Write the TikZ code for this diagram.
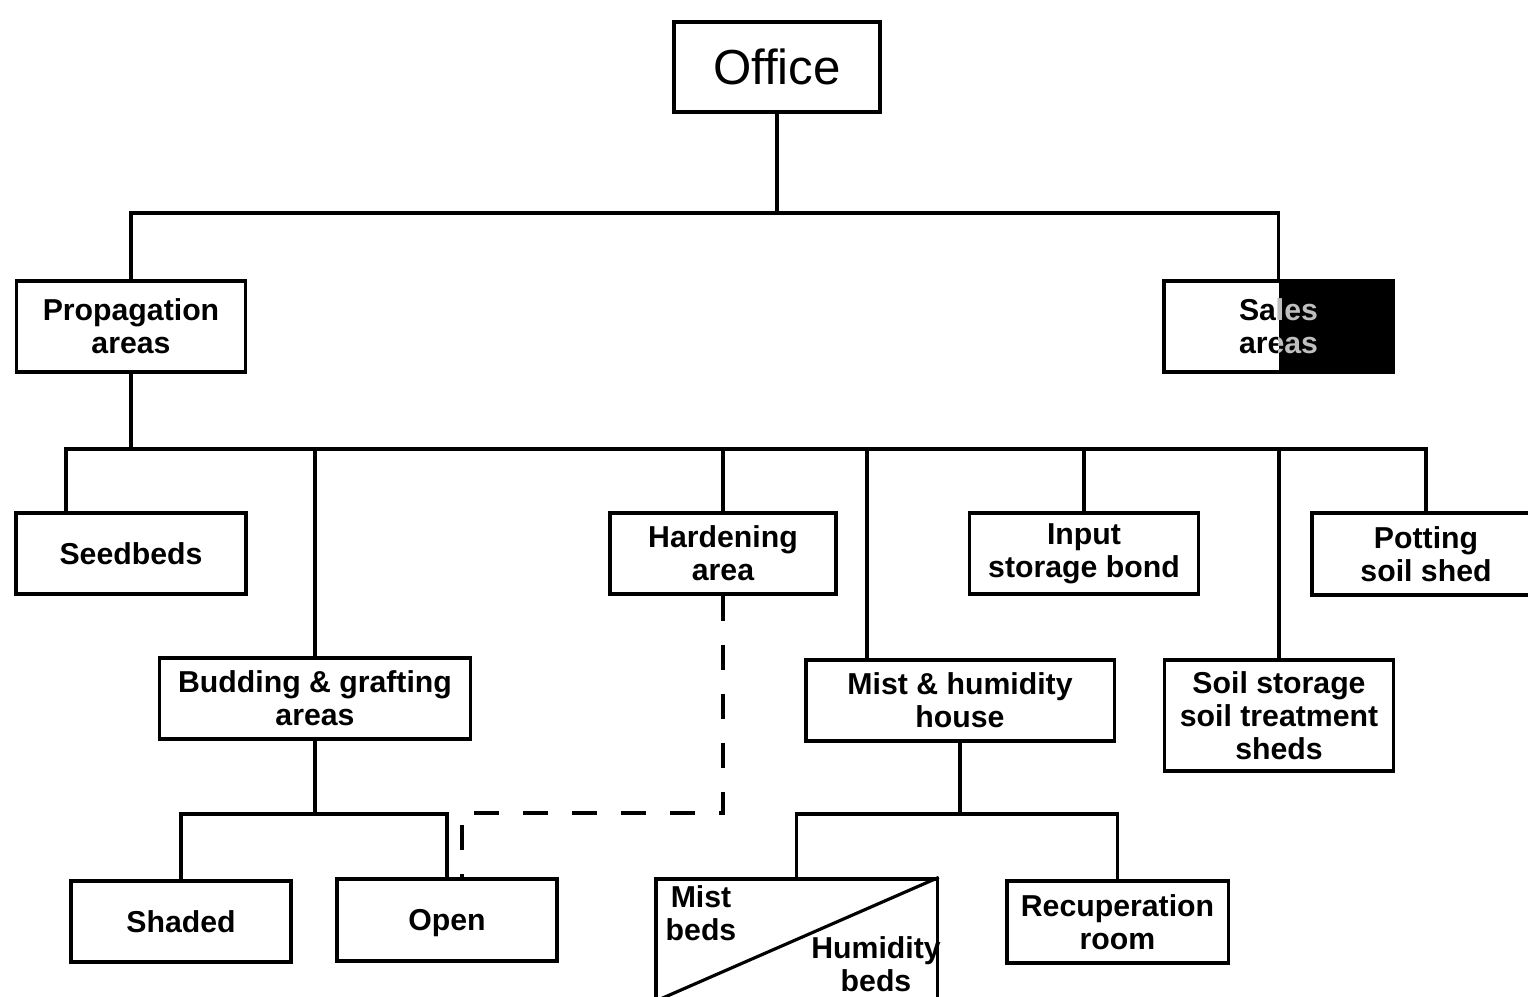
\documentclass[tikz,border=0pt]{standalone}
\usepackage{fontspec}
\setmainfont{Liberation Sans}
\begin{document}
\begin{tikzpicture}[x=0.01cm, y=-0.01cm, line width=0.9pt,
    casella/.style={draw, align=center, inner sep=1pt, font=\bfseries\fontsize{8.6}{9.3}\selectfont},
    riga/.style={text height=6.2pt, text depth=0pt},
    etichetta/.style={align=center, inner sep=0pt, font=\bfseries\fontsize{8.6}{9.3}\selectfont},
    tratteggio/.style={dash pattern=on 0.25cm off 0.24cm}]
    \useasboundingbox (0,0) rectangle (1528,996);

    % Ufficio
    \node[draw, minimum width=2.06cm, minimum height=0.9cm, font=\fontsize{14}{16}\selectfont] (office) at (777,67) {Office};

    % Aree principali
    \node[casella, minimum width=2.29cm, minimum height=0.91cm] (prop) at (131,326.5) {Propagation\\areas};
    \node[casella, minimum width=2.29cm, minimum height=0.91cm] (sales) at (1278.5,326.5) {Sales\\areas};
    \fill (sales.north) rectangle (sales.south east);
    \begin{scope}
        \clip (sales.north) rectangle (sales.south east);
        \node[etichetta, text=gray!50] (salesgray) at (sales.center) {Sales\\areas};
    \end{scope}

    % Reparti di propagazione
    \node[casella, riga, minimum width=2.30cm, minimum height=0.81cm] (seed) at (131,553.5) {Seedbeds};
    \node[casella, minimum width=3.10cm, minimum height=0.81cm] (budding) at (315,698.5) {Budding \& grafting\\areas};
    \node[casella, minimum width=2.26cm, minimum height=0.81cm] (hard) at (723,553.5) {Hardening\\area};
    \node[casella, minimum width=3.08cm, minimum height=0.81cm] (mist) at (960,700.5) {Mist \& humidity\\house};
    \node[casella, minimum width=2.29cm, minimum height=0.81cm] (input) at (1084,553.5) {Input\\storage bond};
    \node[casella, minimum width=2.29cm, minimum height=1.11cm] (soil) at (1279,715.5) {Soil storage\\soil treatment\\sheds};
    \node[casella, minimum width=2.28cm, minimum height=0.82cm] (pot) at (1426,554) {Potting\\soil shed};

    % Sotto-reparti
    \node[casella, riga, minimum width=2.20cm, minimum height=0.81cm] (shaded) at (181,921.5) {Shaded};
    \node[casella, riga, minimum width=2.20cm, minimum height=0.82cm] (open) at (447,920) {Open};
    \node[draw, minimum width=2.81cm, minimum height=1.21cm] (beds) at (796.5,939.5) {};
    \draw (beds.south west) -- (beds.north east);
    \node[etichetta] (mistbeds) at (701,913) {Mist\\beds};
    \node[etichetta] (humbeds) at (876,964) {Humidity\\beds};
    \node[casella, minimum width=2.21cm, minimum height=0.82cm] (recup) at (1117.5,922) {Recuperation\\room};

    % Collegamenti
    \coordinate (bus1) at (777,213);
    \coordinate (bus2) at (131,449);
    \coordinate (bus3) at (315,814);
    \coordinate (bus4) at (960,814);
    \coordinate (dashc) at (462,813);
    \draw (office.south) -- (bus1);
    \draw (prop.north) |- (bus1) -| (sales.north);
    \draw (prop.south) -- (bus2);
    \draw ([xshift=-0.65cm]seed.north) |- (bus2) -| (pot.north);
    \draw (budding.north) -- (budding.north |- bus2);
    \draw (hard.north) -- (hard.north |- bus2);
    \draw ([xshift=-0.93cm]mist.north) -- ([xshift=-0.93cm]mist.north |- bus2);
    \draw (input.north) -- (input.north |- bus2);
    \draw (soil.north) -- (soil.north |- bus2);
    \draw (budding.south) -- (bus3);
    \draw (shaded.north) |- (bus3) -| (open.north);
    \draw (mist.south) -- (bus4);
    \draw (beds.north) |- (bus4) -| (recup.north);
    \draw[tratteggio] (hard.south) |- (dashc) -- (dashc |- open.north);
\end{tikzpicture}
\end{document}
